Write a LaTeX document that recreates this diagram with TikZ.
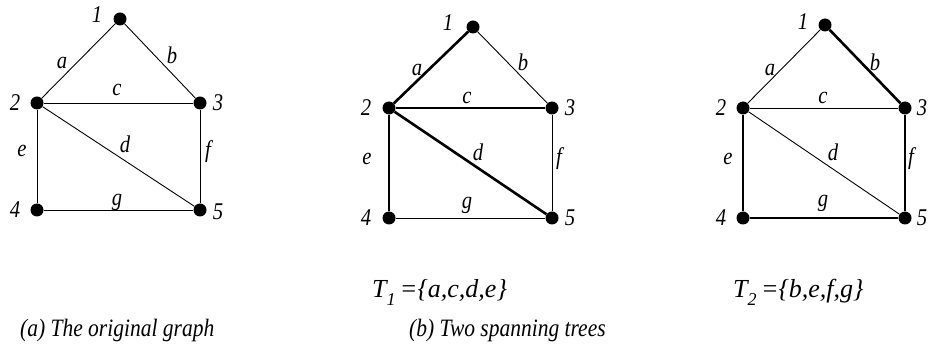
\documentclass[tikz,border=0pt]{standalone}
\usepackage{fontspec}
\setmainfont{Liberation Serif}
\newfontfamily\narrowit[FakeStretch=0.86,ItalicFont={* Italic},UprightFont={* Italic}]{Liberation Serif}
\newfontfamily\plainit[UprightFont={* Italic}]{Liberation Serif}
\begin{document}
\begin{tikzpicture}[x=1pt,y=-1pt,
  dot/.style={circle,fill=black,inner sep=0pt,minimum size=13pt},
  edgethin/.style={line width=0.9pt},
  edgethick/.style={line width=2.6pt},
  lbl/.style={font=\fontsize{24}{24}\narrowit,inner sep=0pt},
  captext/.style={font=\fontsize{25}{25}\narrowit,inner sep=0pt,anchor=base west},
  tset/.style={font=\fontsize{26}{26}\plainit,inner sep=0pt,anchor=base west}]
\useasboundingbox (0,0) rectangle (931,352);
% ---------- Graph (a)
\node[dot] (a1) at (120,19) {};
\node[dot] (a2) at (37,103) {};
\node[dot] (a3) at (200,103) {};
\node[dot] (a4) at (37,210) {};
\node[dot] (a5) at (200,210) {};
\draw[edgethin] (a2) -- (a1);
\draw[edgethin] (a1) -- (a3);
\draw[edgethin] (a2) -- (a3);
\draw[edgethin] (a2) -- (a5);
\draw[edgethin] (a2) -- (a4);
\draw[edgethin] (a3) -- (a5);
\draw[edgethin] (a4) -- (a5);
\node[lbl] (a1l) at (97,15) {1};
\node[lbl] (a2l) at (15,103) {2};
\node[lbl] (a3l) at (218,103) {3};
\node[lbl] (a4l) at (15,210) {4};
\node[lbl] (a5l) at (218,212) {5};
\node[lbl] (aea) at (62,63) {a};
\node[lbl] (aeb) at (172,55) {b};
\node[lbl] (aec) at (117,90) {c};
\node[lbl] (aed) at (125,144) {d};
\node[lbl] (aee) at (22,151) {e};
\node[lbl] (aef) at (208,152) {f};
\node[lbl] (aeg) at (117,202) {g};
% ---------- Tree T1
\node[dot] (b1) at (473,27) {};
\node[dot] (b2) at (389,108) {};
\node[dot] (b3) at (552,108) {};
\node[dot] (b4) at (389,218) {};
\node[dot] (b5) at (552,218) {};
\draw[edgethick] (b2) -- (b1);
\draw[edgethin] (b1) -- (b3);
\draw[edgethick] (b2) -- (b3);
\draw[edgethick] (b2) -- (b5);
\draw[edgethick] (b2) -- (b4);
\draw[edgethin] (b3) -- (b5);
\draw[edgethin] (b4) -- (b5);
\node[lbl] (b1l) at (448,23) {1};
\node[lbl] (b2l) at (366,108) {2};
\node[lbl] (b3l) at (570,108) {3};
\node[lbl] (b4l) at (366,218) {4};
\node[lbl] (b5l) at (570,218) {5};
\node[lbl] (bea) at (417,70) {a};
\node[lbl] (beb) at (523,62) {b};
\node[lbl] (bec) at (467,98) {c};
\node[lbl] (bed) at (478,152) {d};
\node[lbl] (bee) at (367,159) {e};
\node[lbl] (bef) at (559,159) {f};
\node[lbl] (beg) at (467,205) {g};
% ---------- Tree T2
\node[dot] (c1) at (825,25) {};
\node[dot] (c2) at (743,108) {};
\node[dot] (c3) at (905,108) {};
\node[dot] (c4) at (743,218) {};
\node[dot] (c5) at (905,218) {};
\draw[edgethin] (c2) -- (c1);
\draw[edgethick] (c1) -- (c3);
\draw[edgethin] (c2) -- (c3);
\draw[edgethin] (c2) -- (c5);
\draw[edgethick] (c2) -- (c4);
\draw[edgethick] (c3) -- (c5);
\draw[edgethick] (c4) -- (c5);
\node[lbl] (c1l) at (803,22) {1};
\node[lbl] (c2l) at (721,108) {2};
\node[lbl] (c3l) at (922,108) {3};
\node[lbl] (c4l) at (721,218) {4};
\node[lbl] (c5l) at (922,218) {5};
\node[lbl] (cea) at (770,70) {a};
\node[lbl] (ceb) at (875,62) {b};
\node[lbl] (cec) at (823,98) {c};
\node[lbl] (ced) at (833,152) {d};
\node[lbl] (cee) at (728,159) {e};
\node[lbl] (cef) at (911,159) {f};
\node[lbl] (ceg) at (823,203) {g};
% ---------- texts
\node[tset] (t1) at (372,298) {T\raisebox{-8pt}{\fontsize{18}{18}\plainit 1}\,=\{a,c,d,e\}};
\node[tset] (t2) at (733,298) {T\raisebox{-8pt}{\fontsize{18}{18}\plainit 2}\,=\{b,e,f,g\}};
\node[captext] (capa) at (20,337) {(a) The original graph};
\node[captext] (capb) at (409,337) {(b) Two spanning trees};
\end{tikzpicture}
\end{document}
